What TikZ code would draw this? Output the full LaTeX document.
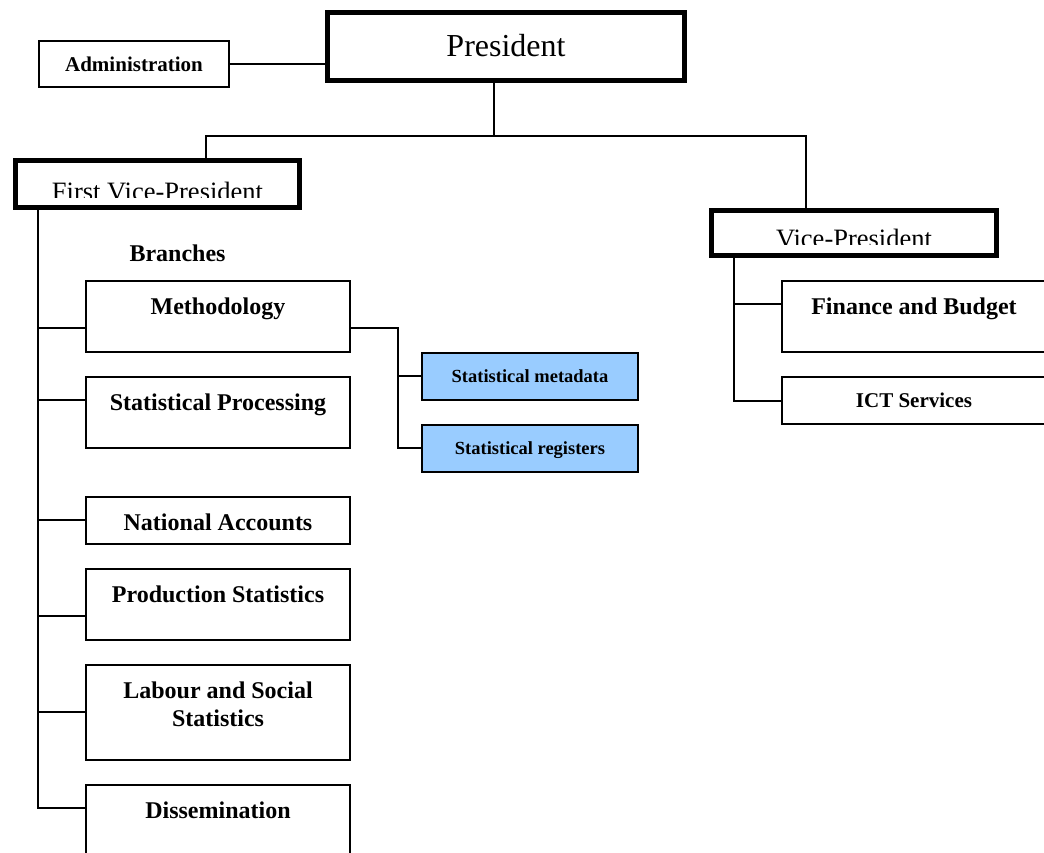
\documentclass[tikz,border=0pt]{standalone}
\usepackage{fontspec}
\setmainfont{Liberation Serif}
\usepackage{xcolor}
\usepackage{tikz}
\usetikzlibrary{positioning,calc}
\definecolor{metablue}{RGB}{153,204,255}
\tikzset{
  unit/.style = {draw, line width=2pt, anchor=north, align=center,
    minimum width=264pt, inner ysep=0pt, text height=33pt, text depth=#1,
    font=\bfseries\fontsize{24}{28}\selectfont},% branch box, text on top
  smallunit/.style = {draw, line width=2pt, minimum height=#1,
    inner ysep=0pt, text height=16pt, text depth=2pt,
    font=\bfseries\fontsize{21}{25}\selectfont},% one line box
  metaunit/.style = {draw, line width=2pt, fill=metablue,
    minimum width=216pt, minimum height=47pt, inner ysep=0pt,
    text height=14pt, text depth=2pt,
    font=\bfseries\fontsize{18.5}{22}\selectfont},% blue box
  chief/.style = {draw, line width=5.5pt, inner sep=0pt},% thick box
  chieftext/.style = {anchor=base, font=\fontsize{26.5}{30}\selectfont}
}
\begin{document}
\begin{tikzpicture}[x=1pt, y=-1pt, line width=2pt,
  every node/.style={outer sep=0pt}]
\useasboundingbox (0,0) rectangle (1044,852);
\clip (0,0) rectangle (1044,852);
% heads
\node [chief, minimum width=357pt, minimum height=68pt, text height=22pt,
  text depth=3pt, font=\fontsize{32}{36}\selectfont] (pres) at (506,46.5) {President};
\node [smallunit=46pt, minimum width=190pt] (admin) at (134,64) {Administration};
\node [chief, minimum width=284pt, minimum height=47pt] (fvp) at (157.5,184) {};
\node [chief, minimum width=285pt, minimum height=45pt] (vp) at (854,233) {};
% labels cut off by the box bottom
\begin{scope}
  \clip (fvp.north west) rectangle ([yshift=10.5pt]fvp.south east);
  \node [chieftext] (fvplabel) at (157.5,200) {First Vice-President};
\end{scope}
\begin{scope}
  \clip (vp.north west) rectangle ([yshift=11.5pt]vp.south east);
  \node [chieftext] (vplabel) at (854,247.5) {Vice-President};
\end{scope}
\coordinate (hub) at (494,136);
\draw (admin.east) -- (admin.east -| pres.west);
\draw ([xshift=-12pt]pres.south) -- (hub);
\draw ([xshift=48.5pt]fvp.north) |- (hub);
\draw ([xshift=-48pt]vp.north) |- (hub);
% branches
\node [font=\bfseries\fontsize{24}{28}\selectfont] (branches) at (177.5,253) {Branches};
\node [unit=38pt] (meth) at (218,281) {Methodology};
\node [unit=38pt] (proc) at (218,377) {Statistical Processing};
\node [unit=14pt] (nat) at (218,497) {National Accounts};
\node [unit=38pt] (prod) at (218,569) {Production Statistics};
\node [unit=34pt, text height=61pt] (lab) at (218,665) {Labour and Social\\Statistics};
\node [unit=38pt] (diss) at (218,785) {Dissemination};
\coordinate (fvpspine) at ([xshift=22.5pt]fvp.south west);
\foreach \n/\s in {meth/-11.5, proc/12.5, nat/0.5, prod/-11.5, lab/0.5, diss/12.5}
  \draw ([yshift=\s pt]\n.west) -| (fvpspine);
% vice-president side
\node [unit=38pt] (fin) at (914,281) {Finance and Budget};
\node [smallunit=47pt, minimum width=264pt] (ict) at (914,400.5) {ICT Services};
\coordinate (vpspine) at ([xshift=22.5pt]vp.south west);
\foreach \n/\s in {fin/12.5, ict/-0.5}
  \draw ([yshift=\s pt]\n.west) -| (vpspine);
% methodology units
\node [metaunit] (meta) at (530,376) {Statistical metadata};
\node [metaunit] (reg) at (530,448) {Statistical registers};
\coordinate (methfork) at ([xshift=48pt,yshift=-11.5pt]meth.east);
\draw ([yshift=-11.5pt]meth.east) -- (methfork) |- (reg.west);
\draw (methfork) |- (meta.west);
\end{tikzpicture}
\end{document}
